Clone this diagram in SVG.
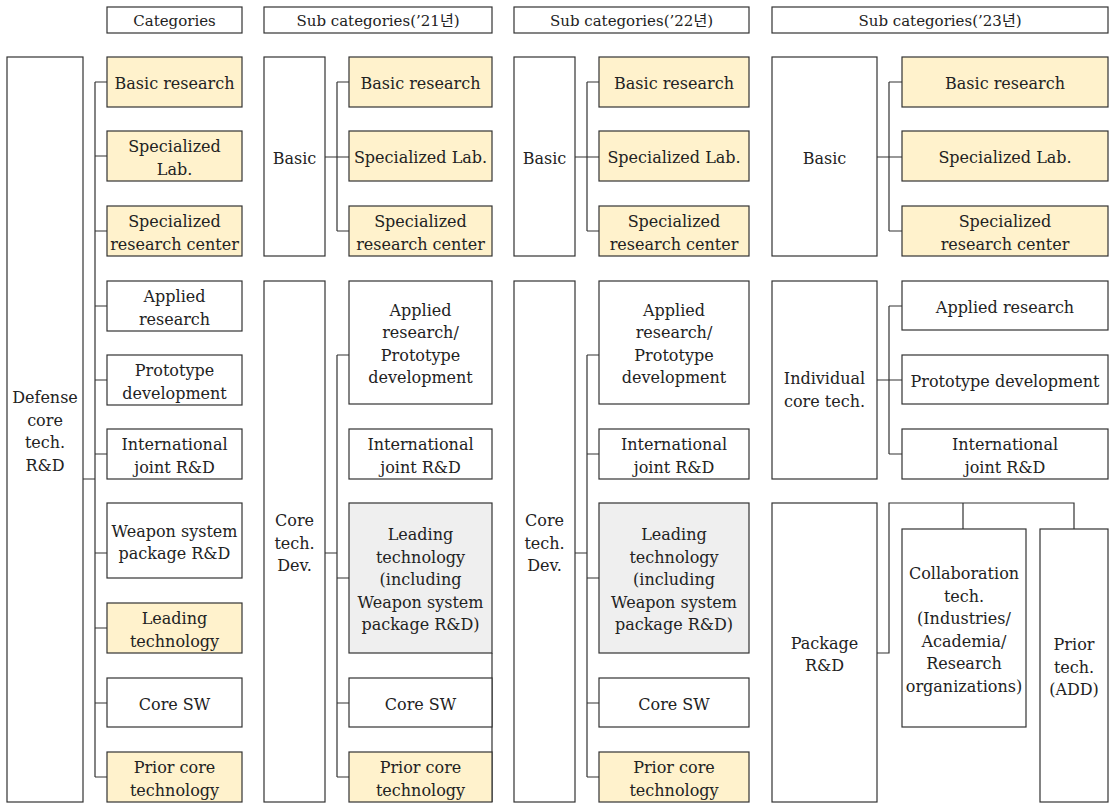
<svg xmlns="http://www.w3.org/2000/svg" width="1111" height="803" viewBox="0 0 1111 803">
<style>
.b{fill:#fff;stroke:#333;stroke-width:1.2}
.y{fill:#fff2cc}
.g{fill:#efefef}
.c{stroke:#333;stroke-width:1.2;fill:none}
text{font-family:"DejaVu Serif","Noto Sans CJK KR",serif;font-size:16px;fill:#222;text-anchor:middle}
.h{font-size:15px}
</style>
<rect width="1111" height="803" fill="#fff"/>
<g id="headers">
<g id="h-cat"><rect class="b" x="107" y="7" width="135" height="26"/><text class="h" x="174.5" y="26">Categories</text></g>
<g id="h-21"><rect class="b" x="264" y="7" width="228" height="26"/><text class="h" x="378" y="26">Sub categories(’21년)</text></g>
<g id="h-22"><rect class="b" x="514" y="7" width="235" height="26"/><text class="h" x="631.5" y="26">Sub categories(’22년)</text></g>
<g id="h-23"><rect class="b" x="772" y="7" width="336" height="26"/><text class="h" x="940" y="26">Sub categories(’23년)</text></g>
</g>
<g id="connectors">
<path class="c" d="M95 82V777M95 82H107M95 156H107M95 231H107M95 306H107M95 380H107M95 454H107M95 553H107M95 628H107M95 703H107M95 777H107M83 479H95"/>
<path class="c" d="M337 82V231M337 82H349M337 231H349M325 157H349M337 355V777M337 355H349M337 578H349M337 703H349M337 777H349M325 553H337M492 653V802"/>
<path class="c" d="M587 82V231M587 82H599M587 231H599M575 157H599M587 355V777M587 355H599M587 454H599M587 578H599M587 703H599M587 777H599M575 553H587"/>
<path class="c" d="M889 82V231M889 82H902M889 231H902M877 157H902M889 306V454M889 306H902M889 454H902M877 380H902M877 653H889V503H1074V529M963 503V529"/>
</g>
<g id="n-defense"><rect class="b" x="7" y="57" width="76" height="745"/><text x="45" y="403">Defense</text><text x="45" y="425.5">core</text><text x="45" y="448">tech.</text><text x="45" y="470.5">R&amp;D</text></g>
<g id="cat">
<g id="c1"><rect class="b y" x="107" y="57" width="135" height="50"/><text x="174.5" y="89">Basic research</text></g>
<g id="c2"><rect class="b y" x="107" y="131" width="135" height="50"/><text x="174.5" y="152">Specialized</text><text x="174.5" y="174.5">Lab.</text></g>
<g id="c3"><rect class="b y" x="107" y="206" width="135" height="50"/><text x="174.5" y="227">Specialized</text><text x="174.5" y="249.5">research center</text></g>
<g id="c4"><rect class="b" x="107" y="281" width="135" height="50"/><text x="174.5" y="302">Applied</text><text x="174.5" y="324.5">research</text></g>
<g id="c5"><rect class="b" x="107" y="355" width="135" height="50"/><text x="174.5" y="376">Prototype</text><text x="174.5" y="398.5">development</text></g>
<g id="c6"><rect class="b" x="107" y="429" width="135" height="50"/><text x="174.5" y="450">International</text><text x="174.5" y="472.5">joint R&amp;D</text></g>
<g id="c7"><rect class="b" x="107" y="503" width="135" height="75"/><text x="174.5" y="536.5">Weapon system</text><text x="174.5" y="559">package R&amp;D</text></g>
<g id="c8"><rect class="b y" x="107" y="603" width="135" height="50"/><text x="174.5" y="624">Leading</text><text x="174.5" y="646.5">technology</text></g>
<g id="c9"><rect class="b" x="107" y="678" width="135" height="49"/><text x="174.5" y="709.5">Core SW</text></g>
<g id="c10"><rect class="b y" x="107" y="752" width="135" height="50"/><text x="174.5" y="773">Prior core</text><text x="174.5" y="795.5">technology</text></g>
</g>
<g id="y21">
<g id="a-basic"><rect class="b" x="264" y="57" width="61" height="199"/><text x="294.5" y="163.5">Basic</text></g>
<g id="a-core"><rect class="b" x="264" y="281" width="61" height="521"/><text x="294.5" y="526">Core</text><text x="294.5" y="548.5">tech.</text><text x="294.5" y="571">Dev.</text></g>
<g id="a1"><rect class="b y" x="349" y="57" width="143" height="50"/><text x="420.5" y="89">Basic research</text></g>
<g id="a2"><rect class="b y" x="349" y="131" width="143" height="50"/><text x="420.5" y="163">Specialized Lab.</text></g>
<g id="a3"><rect class="b y" x="349" y="206" width="143" height="50"/><text x="420.5" y="227">Specialized</text><text x="420.5" y="249.5">research center</text></g>
<g id="a4"><rect class="b" x="349" y="281" width="143" height="123"/><text x="420.5" y="315.5">Applied</text><text x="420.5" y="338">research/</text><text x="420.5" y="360.5">Prototype</text><text x="420.5" y="383">development</text></g>
<g id="a5"><rect class="b" x="349" y="429" width="143" height="50"/><text x="420.5" y="450">International</text><text x="420.5" y="472.5">joint R&amp;D</text></g>
<g id="a6"><rect class="b g" x="349" y="503" width="143" height="150"/><text x="420.5" y="540">Leading</text><text x="420.5" y="562.5">technology</text><text x="420.5" y="585">(including</text><text x="420.5" y="607.5">Weapon system</text><text x="420.5" y="630">package R&amp;D)</text></g>
<g id="a7"><rect class="b" x="349" y="678" width="143" height="49"/><text x="420.5" y="709.5">Core SW</text></g>
<g id="a8"><rect class="b y" x="349" y="752" width="143" height="50"/><text x="420.5" y="773">Prior core</text><text x="420.5" y="795.5">technology</text></g>
</g>
<g id="y22">
<g id="b-basic"><rect class="b" x="514" y="57" width="61" height="199"/><text x="544.5" y="163.5">Basic</text></g>
<g id="b-core"><rect class="b" x="514" y="281" width="61" height="521"/><text x="544.5" y="526">Core</text><text x="544.5" y="548.5">tech.</text><text x="544.5" y="571">Dev.</text></g>
<g id="b1"><rect class="b y" x="599" y="57" width="150" height="50"/><text x="674" y="89">Basic research</text></g>
<g id="b2"><rect class="b y" x="599" y="131" width="150" height="50"/><text x="674" y="163">Specialized Lab.</text></g>
<g id="b3"><rect class="b y" x="599" y="206" width="150" height="50"/><text x="674" y="227">Specialized</text><text x="674" y="249.5">research center</text></g>
<g id="b4"><rect class="b" x="599" y="281" width="150" height="123"/><text x="674" y="315.5">Applied</text><text x="674" y="338">research/</text><text x="674" y="360.5">Prototype</text><text x="674" y="383">development</text></g>
<g id="b5"><rect class="b" x="599" y="429" width="150" height="50"/><text x="674" y="450">International</text><text x="674" y="472.5">joint R&amp;D</text></g>
<g id="b6"><rect class="b g" x="599" y="503" width="150" height="150"/><text x="674" y="540">Leading</text><text x="674" y="562.5">technology</text><text x="674" y="585">(including</text><text x="674" y="607.5">Weapon system</text><text x="674" y="630">package R&amp;D)</text></g>
<g id="b7"><rect class="b" x="599" y="678" width="150" height="49"/><text x="674" y="709.5">Core SW</text></g>
<g id="b8"><rect class="b y" x="599" y="752" width="150" height="50"/><text x="674" y="773">Prior core</text><text x="674" y="795.5">technology</text></g>
</g>
<g id="y23">
<g id="d-basic"><rect class="b" x="772" y="57" width="105" height="199"/><text x="824.5" y="163.5">Basic</text></g>
<g id="d-ind"><rect class="b" x="772" y="281" width="105" height="198"/><text x="824.5" y="384">Individual</text><text x="824.5" y="407">core tech.</text></g>
<g id="d-pkg"><rect class="b" x="772" y="503" width="105" height="299"/><text x="824.5" y="648.5">Package</text><text x="824.5" y="671">R&amp;D</text></g>
<g id="d1"><rect class="b y" x="902" y="57" width="206" height="50"/><text x="1005" y="89">Basic research</text></g>
<g id="d2"><rect class="b y" x="902" y="131" width="206" height="50"/><text x="1005" y="163">Specialized Lab.</text></g>
<g id="d3"><rect class="b y" x="902" y="206" width="206" height="50"/><text x="1005" y="227">Specialized</text><text x="1005" y="249.5">research center</text></g>
<g id="d4"><rect class="b" x="902" y="281" width="206" height="49"/><text x="1005" y="312.5">Applied research</text></g>
<g id="d5"><rect class="b" x="902" y="355" width="206" height="49"/><text x="1005" y="386.5">Prototype development</text></g>
<g id="d6"><rect class="b" x="902" y="429" width="206" height="50"/><text x="1005" y="450">International</text><text x="1005" y="472.5">joint R&amp;D</text></g>
<g id="d7"><rect class="b" x="902" y="529" width="124" height="198"/><text x="964" y="579">Collaboration</text><text x="964" y="601.5">tech.</text><text x="964" y="624">(Industries/</text><text x="964" y="646.5">Academia/</text><text x="964" y="669">Research</text><text x="964" y="691.5">organizations)</text></g>
<g id="d8"><rect class="b" x="1040" y="529" width="68" height="273"/><text x="1074" y="650">Prior</text><text x="1074" y="672.5">tech.</text><text x="1074" y="695">(ADD)</text></g>
</g>
</svg>
